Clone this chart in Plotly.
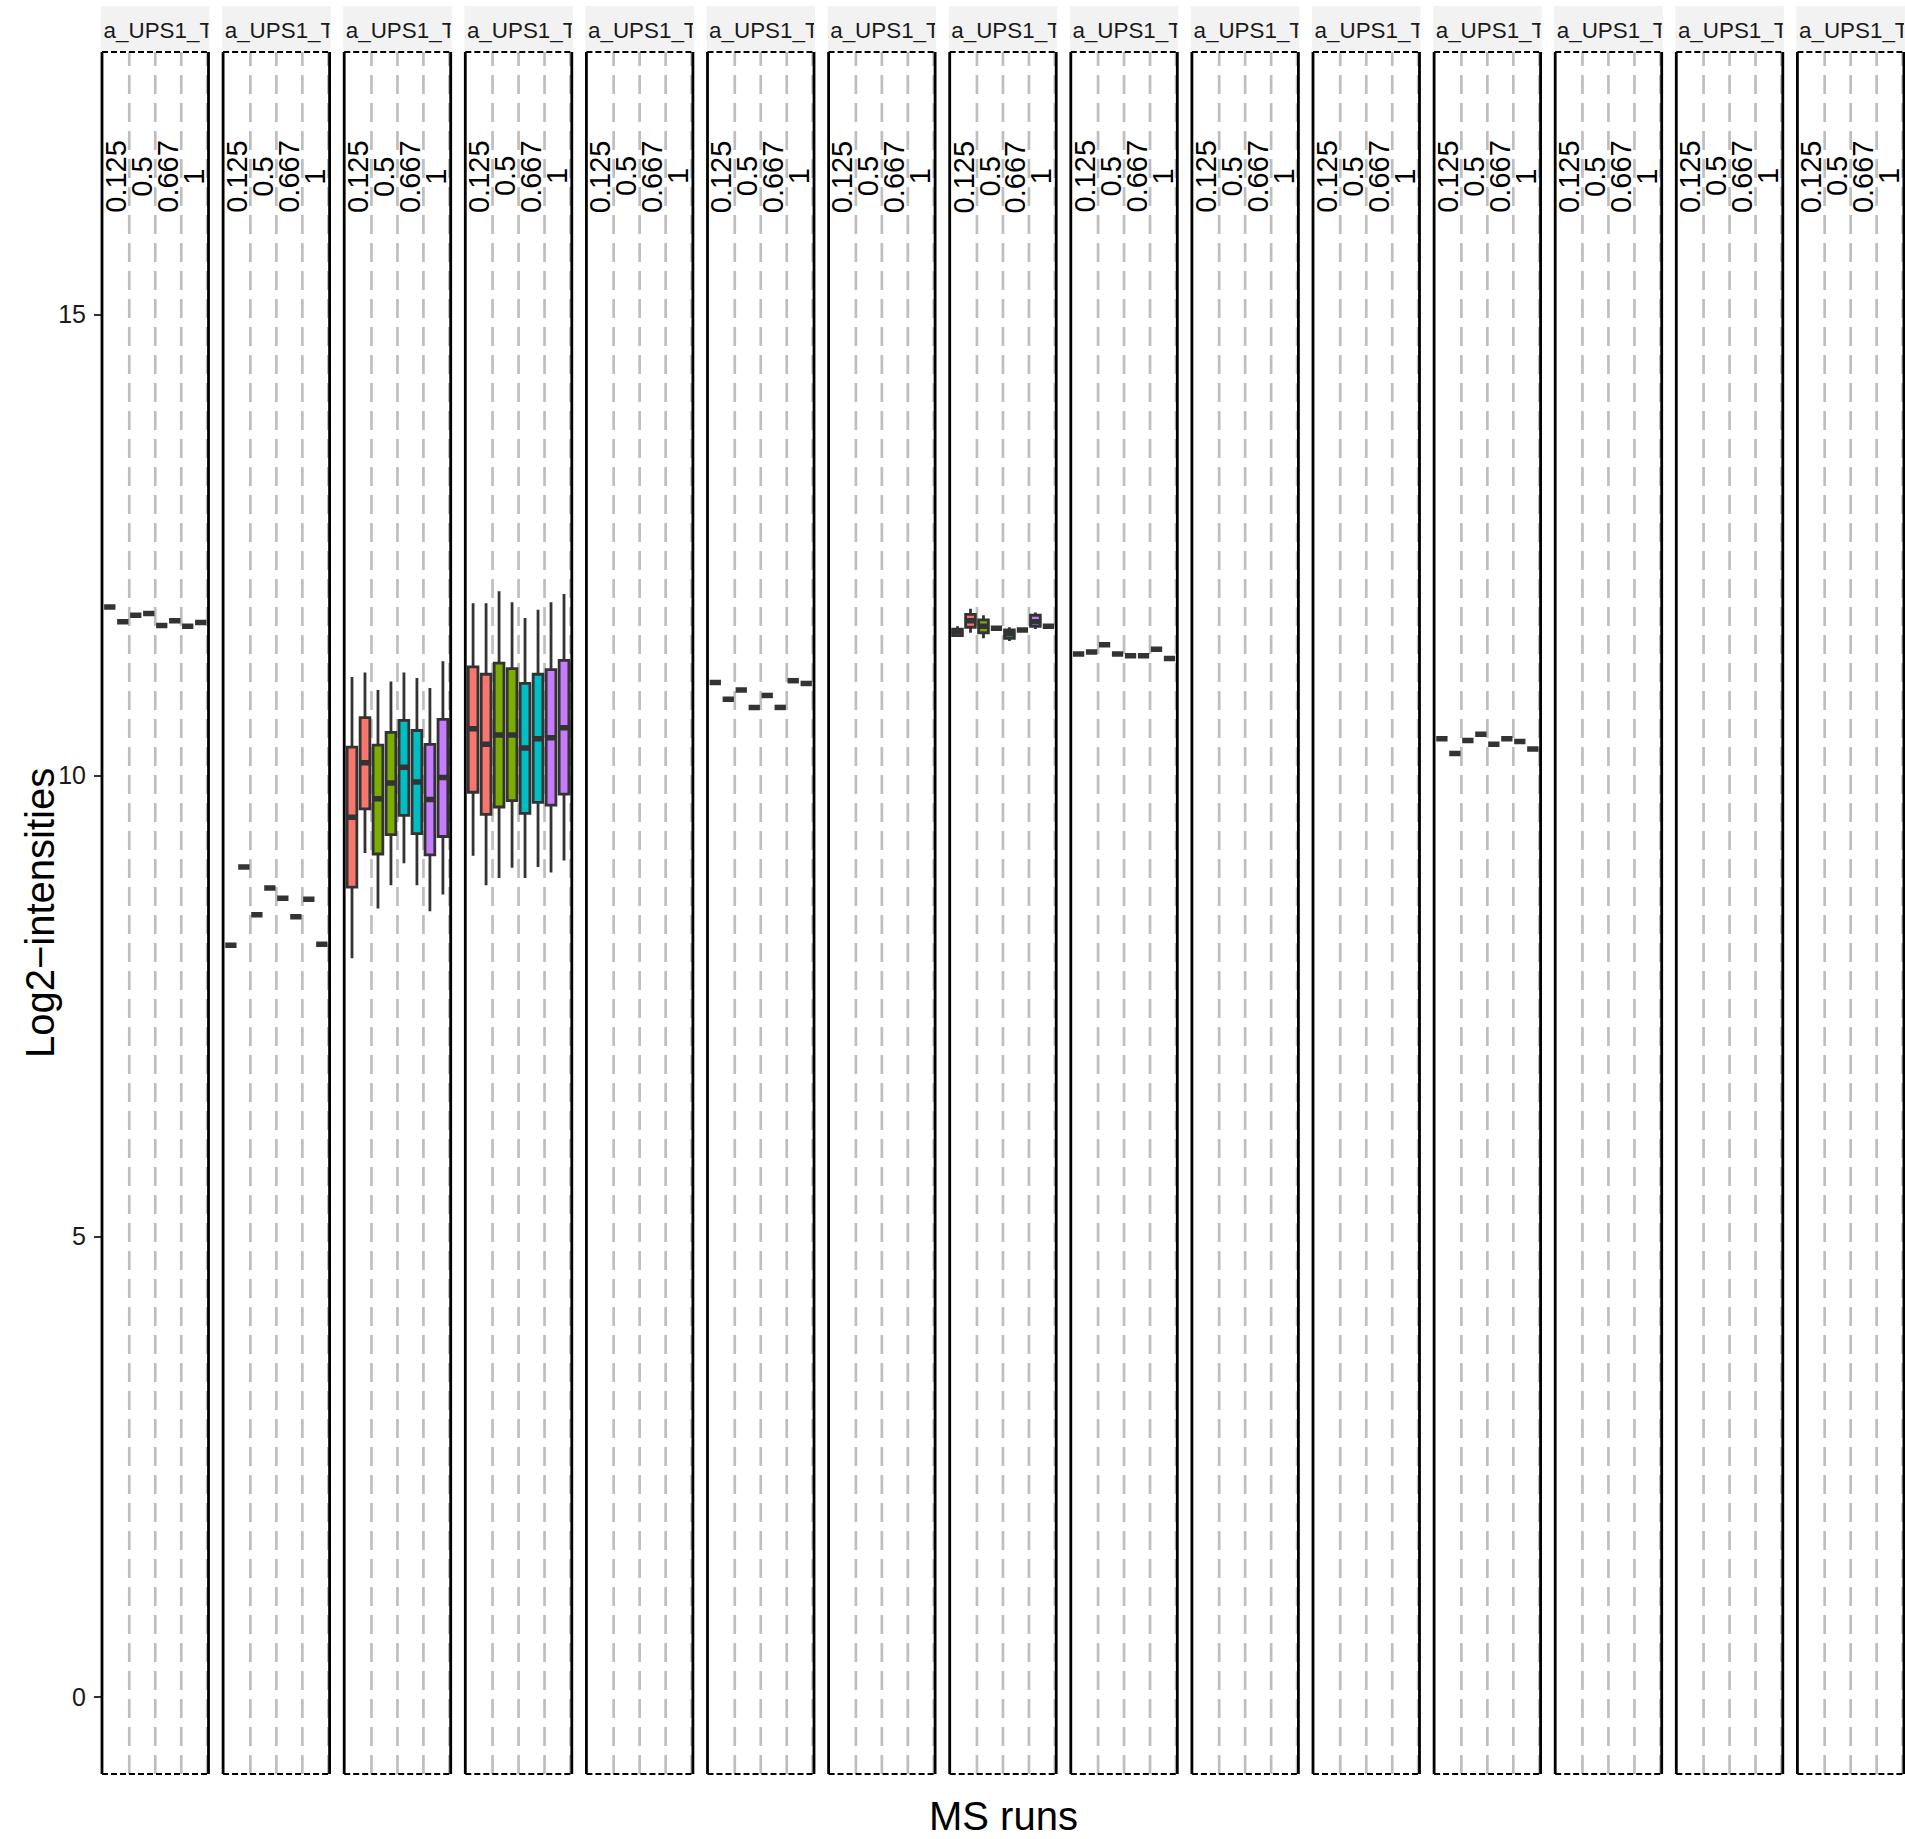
import plotly.graph_objects as go

W, H = 1905, 1839

# ---------------- data ----------------
conditions = ["0.125", "0.5", "0.667", "1"]
condition_centers = [1.5, 3.5, 5.5, 7.5]
condition_bounds = [2.5, 4.5, 6.5, 8.5]
condition_colors = ["#F8766D", "#7CAE00", "#00BFC4", "#C77CFF"]
runs = [1, 2, 3, 4, 5, 6, 7, 8]
run_condition = [0, 0, 1, 1, 2, 2, 3, 3]
strip_labels = [".a_UPS1_T"] * 15
y_ticks = [0, 5, 10, 15]

# panels whose runs hold a single value (median only)
p1_med = [11.83, 11.67, 11.74, 11.76, 11.63, 11.68, 11.62, 11.66]
p2_med = [8.16, 9.01, 8.49, 8.78, 8.67, 8.47, 8.66, 8.17]
p6_med = [11.01, 10.83, 10.93, 10.74, 10.87, 10.74, 11.03, 11.00]
p9_med = [11.32, 11.34, 11.42, 11.32, 11.30, 11.30, 11.37, 11.27]
p12_med = [10.40, 10.24, 10.38, 10.45, 10.34, 10.40, 10.37, 10.29]

# panels with full boxes
p3_low = [8.02, 9.16, 8.56, 8.81, 9.05, 8.81, 8.53, 8.71]
p3_q1 = [8.79, 9.64, 9.15, 9.36, 9.57, 9.37, 9.14, 9.34]
p3_med = [9.55, 10.14, 9.75, 9.92, 10.09, 9.93, 9.74, 9.98]
p3_q3 = [10.31, 10.63, 10.33, 10.47, 10.60, 10.49, 10.34, 10.61]
p3_up = [11.07, 11.12, 10.93, 11.02, 11.12, 11.06, 10.95, 11.24]

p4_low = [9.13, 8.81, 8.89, 9.00, 8.89, 9.01, 8.95, 9.08]
p4_q1 = [9.82, 9.58, 9.66, 9.73, 9.59, 9.71, 9.68, 9.80]
p4_med = [10.51, 10.34, 10.44, 10.44, 10.30, 10.40, 10.41, 10.52]
p4_q3 = [11.18, 11.10, 11.22, 11.16, 11.00, 11.10, 11.15, 11.25]
p4_up = [11.87, 11.87, 12.00, 11.88, 11.71, 11.80, 11.88, 11.97]

p8_low = [11.51, 11.55, 11.49, 11.60, 11.46, 11.58, 11.59, 11.62]
p8_q1 = [11.52, 11.61, 11.55, 11.60, 11.49, 11.58, 11.62, 11.62]
p8_med = [11.56, 11.68, 11.62, 11.60, 11.54, 11.58, 11.67, 11.62]
p8_q3 = [11.59, 11.75, 11.69, 11.60, 11.58, 11.58, 11.74, 11.62]
p8_up = [11.62, 11.81, 11.74, 11.60, 11.61, 11.58, 11.77, 11.62]

panel_stats = {
    0: (p1_med, p1_med, p1_med, p1_med, p1_med),
    1: (p2_med, p2_med, p2_med, p2_med, p2_med),
    2: (p3_low, p3_q1, p3_med, p3_q3, p3_up),
    3: (p4_low, p4_q1, p4_med, p4_q3, p4_up),
    5: (p6_med, p6_med, p6_med, p6_med, p6_med),
    7: (p8_low, p8_q1, p8_med, p8_q3, p8_up),
    8: (p9_med, p9_med, p9_med, p9_med, p9_med),
    11: (p12_med, p12_med, p12_med, p12_med, p12_med),
}

# ---------------- layout geometry (pixels) ----------------
N = 15
P_LEFT0, P_STEP, P_W = 102.0, 121.1, 106.5
P_TOP, P_BOT = 52.0, 1774.0
S_TOP = 6.0
X_RANGE = [0.4, 8.6]
Y_RANGE = [-0.83, 17.85]
BOX_W = 0.75
OUTLINE = "#333333"


def px_x(v):
    return v / W


def px_y(v):
    return 1 - v / H


fig = go.Figure()
shapes = []
annotations = []
layout = dict(
    width=W, height=H,
    margin=dict(l=0, r=0, t=0, b=0),
    paper_bgcolor="white",
    plot_bgcolor="rgba(0,0,0,0)",
    showlegend=False,
    font=dict(family="Liberation Sans, Arial, sans-serif", color="#1A1A1A"),
)

for i in range(N):
    n = i + 1
    sx = "" if n == 1 else str(n)
    xref, yref = "x" + sx, "y" + sx
    left = P_LEFT0 + P_STEP * i
    right = min(left + P_W, 1904.0)
    dom_x = [px_x(left), px_x(right)]

    layout["xaxis" + sx] = dict(
        domain=dom_x, range=X_RANGE, anchor=yref, showgrid=False,
        zeroline=False, showticklabels=False, ticks="", showline=False,
        fixedrange=True,
    )
    ycfg = dict(
        domain=[px_y(P_BOT), px_y(P_TOP)], range=Y_RANGE, anchor=xref,
        showgrid=False, zeroline=False, showline=False, fixedrange=True,
    )
    if n == 1:
        ycfg.update(tickvals=y_ticks, ticks="outside", ticklen=7, tickwidth=2.2,
                    tickcolor=OUTLINE, ticklabelstandoff=3,
                    tickfont=dict(size=25, color="#1A1A1A"))
    else:
        ycfg.update(matches="y", showticklabels=False, ticks="")
    layout["yaxis" + sx] = ycfg

    # dashed separators between conditions
    for b in condition_bounds:
        shapes.append(dict(type="line", xref=xref, yref=yref + " domain",
                           x0=b, x1=b, y0=0, y1=1, layer="below",
                           line=dict(color="#BEBEBE", width=2.7, dash="19px,9px")))
    # condition labels
    for c, xc in zip(conditions, condition_centers):
        annotations.append(dict(xref=xref, yref=yref, x=xc, y=16.5, text=c,
                                textangle=-90, showarrow=False,
                                xanchor="center", yanchor="middle",
                                font=dict(size=29, color="black")))

    # panel borders
    for xb in (left, right):
        shapes.append(dict(type="line", xref="paper", yref="paper",
                           x0=px_x(xb), x1=px_x(xb), y0=px_y(P_BOT), y1=px_y(P_TOP),
                           layer="above", line=dict(color="black", width=2.8)))
    for yb in (P_TOP, P_BOT):
        shapes.append(dict(type="line", xref="paper", yref="paper",
                           x0=px_x(left), x1=px_x(right), y0=px_y(yb), y1=px_y(yb),
                           layer="above", line=dict(color="black", width=2, dash="6px,3px")))

    # strip background
    shapes.append(dict(type="rect", xref="paper", yref="paper",
                       x0=px_x(left - 1), x1=px_x(right + 1),
                       y0=px_y(P_TOP - 1), y1=px_y(S_TOP),
                       layer="below", fillcolor="#F2F2F2", line=dict(width=0)))

    # strip text on its own (clipping) axes
    sn = str(N + n)
    layout["xaxis" + sn] = dict(domain=[px_x(left), px_x(right)], range=[0, 1],
                                anchor="y" + sn, visible=False, fixedrange=True)
    layout["yaxis" + sn] = dict(domain=[px_y(P_TOP - 1), px_y(S_TOP)], range=[0, 1],
                                anchor="x" + sn, visible=False, fixedrange=True)
    fig.add_trace(go.Scatter(x=[0.5], y=[0.42], mode="text", text=[strip_labels[i]],
                             textposition="middle center", cliponaxis=True,
                             textfont=dict(size=22.4, color="#1A1A1A"),
                             xaxis="x" + sn, yaxis="y" + sn, hoverinfo="skip"))

    # boxes
    if i in panel_stats:
        low, q1, med, q3, up = panel_stats[i]
        for c in range(len(conditions)):
            ks = [k for k in range(len(runs)) if run_condition[k] == c]
            fig.add_trace(go.Box(
                x=[runs[k] for k in ks],
                lowerfence=[low[k] for k in ks], q1=[q1[k] for k in ks],
                median=[med[k] for k in ks], q3=[q3[k] for k in ks],
                upperfence=[up[k] for k in ks],
                fillcolor=condition_colors[c], line=dict(color=OUTLINE, width=2.8),
                whiskerwidth=0, width=BOX_W, boxpoints=False,
                xaxis=xref, yaxis=yref, hoverinfo="skip",
            ))
        mx, my = [], []
        for k in range(len(runs)):
            mx += [runs[k] - BOX_W / 2 - 0.06, runs[k] + BOX_W / 2 + 0.06, None]
            my += [med[k], med[k], None]
        fig.add_trace(go.Scatter(x=mx, y=my, mode="lines",
                                 line=dict(color=OUTLINE, width=5.5),
                                 xaxis=xref, yaxis=yref, hoverinfo="skip"))

# axis titles
annotations.append(dict(xref="paper", yref="paper", x=px_x(40), y=px_y(913),
                        xanchor="center", yanchor="middle",
                        text="Log2\u2212intensities", textangle=-90, showarrow=False,
                        font=dict(size=40, color="black")))
annotations.append(dict(xref="paper", yref="paper", x=px_x(1003), y=px_y(1816),
                        xanchor="center", yanchor="middle",
                        text="MS runs", showarrow=False,
                        font=dict(size=40, color="black")))

layout["shapes"] = shapes
layout["annotations"] = annotations
layout["boxmode"] = "overlay"
fig.update_layout(**layout)

fig.write_html(
    "out.html",
    config={"displayModeBar": False},
    post_script="document.body.style.margin='0px';document.body.style.overflow='hidden';",
)
